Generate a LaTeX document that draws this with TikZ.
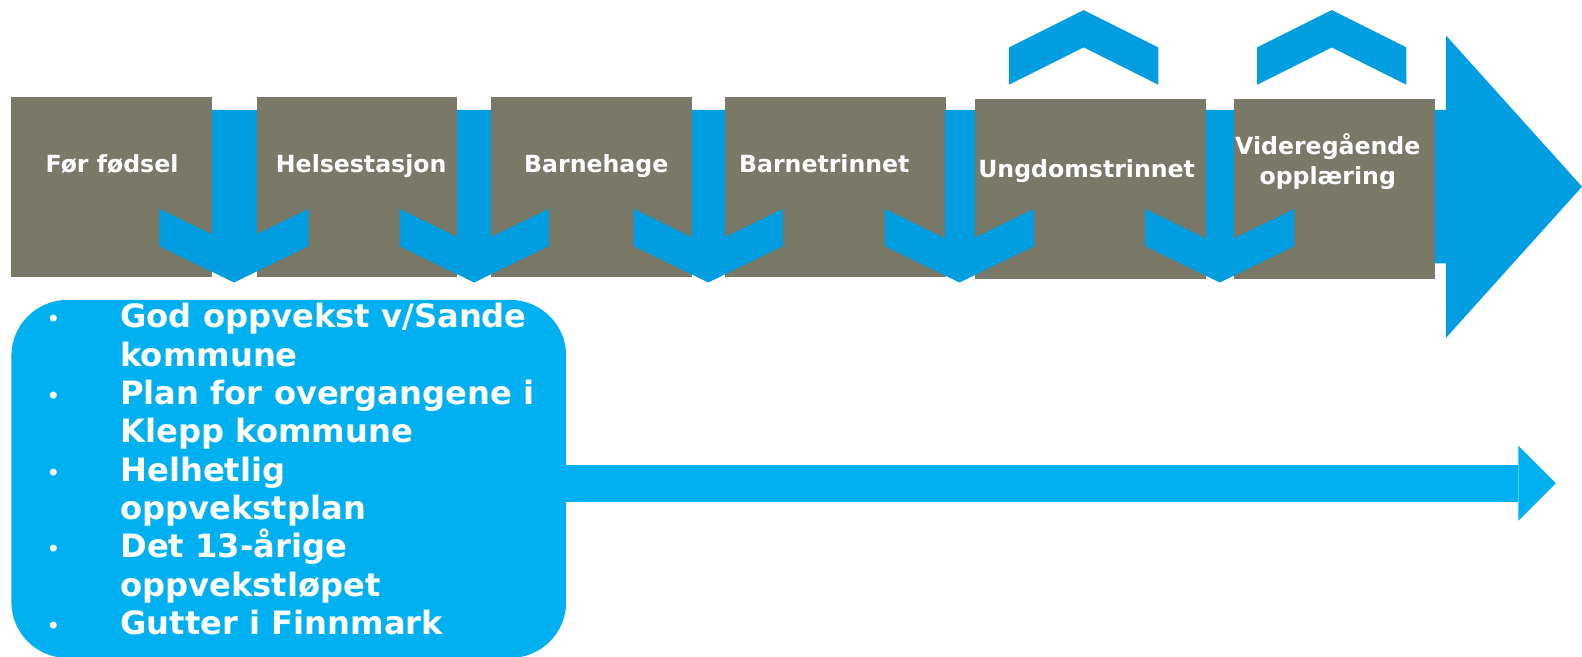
\documentclass[tikz,border=0pt]{standalone}
\usepackage{fontspec}
\setmainfont{DejaVu Sans}
\usetikzlibrary{arrows.meta}

\definecolor{stagegray}{RGB}{122,120,102}
\definecolor{flowblue}{RGB}{0,158,224}
\definecolor{listblue}{RGB}{0,176,240}

\tikzset{
  stage/.style={fill=stagegray, inner sep=0pt, anchor=north west, minimum height=4.49cm},
  stagetext/.style={text=white, font=\bfseries\fontsize{16.8}{21.5}\selectfont, align=center, inner sep=0pt},
  listtext/.style={text=white, font=\bfseries\fontsize{22.9}{27}\selectfont, inner sep=0pt, anchor=base west},
  bulletmark/.style={text=white, font=\fontsize{17}{18}\selectfont, inner sep=0pt, anchor=base},
}

\begin{document}
\begin{tikzpicture}[x=0.025223cm, y=-0.025223cm]
	\useasboundingbox (0,0) rectangle (1568,650.2);

	% timeline arrow behind the stages
	\fill [flowblue] (11,109) -- (1433,109) -- (1433,35) -- (1568,185) -- (1433,335) -- (1433,261) -- (11,261) -- cycle;

	% stages
	\node [stage, minimum width=5.02cm] (fodsel) at (11,96) {};
	\node [stage, minimum width=5.02cm] (helse) at (254,96) {};
	\node [stage, minimum width=5.045cm] (barnehage) at (486,96) {};
	\node [stage, minimum width=5.524cm] (barnetrinn) at (718,96) {};
	\node [stage, minimum width=5.776cm] (ungdom) at (966,98) {};
	\node [stage, minimum width=5.02cm] (vgo) at (1223,98) {};

	% transitions down between the stages
	\foreach \c/\w in {232/44, 470/33, 702/32, 951/29, 1209/28} {
		\fill [flowblue] (\c-\w/2,109) rectangle (\c+\w/2,250);
		\fill [flowblue] (\c-74,207) -- (\c,243) -- (\c+74,207) -- (\c+74,244) -- (\c,280) -- (\c-74,244) -- cycle;
	}

	% chevrons above the last two stages
	\foreach \c in {1074, 1320} {
		\fill [flowblue] (\c-74,47) -- (\c,10) -- (\c+74,47) -- (\c+74,84) -- (\c,47) -- (\c-74,84) -- cycle;
	}

	\node [stagetext, anchor=base] (fodsel-t) at (111,171) {Før fødsel};
	\node [stagetext, anchor=base] (helse-t) at (358,171) {Helsestasjon};
	\node [stagetext, anchor=base] (barnehage-t) at (591,171) {Barnehage};
	\node [stagetext, anchor=base] (barnetrinn-t) at (817,171) {Barnetrinnet};
	\node [stagetext, anchor=base] (ungdom-t) at (1077,176) {Ungdomstrinnet};
	\node [stagetext] (vgo-t) at (1316,160) {Videregående\\opplæring};

	% plans
	\node [fill=listblue, rounded corners=1.4cm, inner sep=0pt, anchor=north west,
		minimum width=13.87cm, minimum height=8.95cm] (list) at (11,297) {};

	\coordinate (listend) at (1542,479);
	\draw [listblue, line width=0.933cm, -{Triangle[length=0.933cm, width=1.866cm, line width=0pt]}] (list.east |- listend) -- (listend);

	\foreach \t [count=\i] in {God oppvekst v/Sande, kommune, Plan for overgangene i, Klepp kommune,
		Helhetlig, oppvekstplan, Det 13-årige, oppvekstløpet, Gutter i Finnmark} {
		\node [listtext] (line\i) at (119,287+38*\i) {\t};
	}
	\foreach \i in {1,3,5,7,9} {
		\node [bulletmark] (dot\i) at (53,287+38*\i) {•};
	}
\end{tikzpicture}
\end{document}
